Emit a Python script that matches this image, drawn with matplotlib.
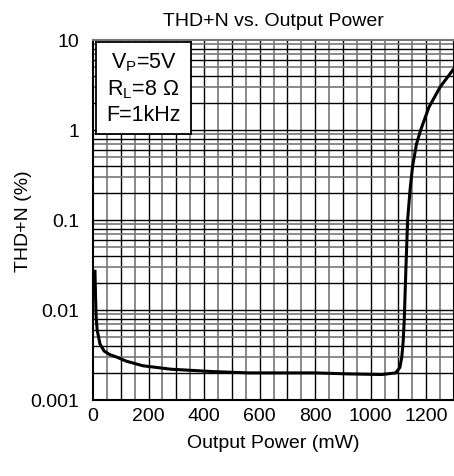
import numpy as np
import matplotlib
matplotlib.use("Agg")
import matplotlib.pyplot as plt
from matplotlib.ticker import FixedLocator, NullFormatter

plt.rcParams['font.family'] = ['Liberation Sans', 'DejaVu Sans']
plt.rcParams['mathtext.fontset'] = 'custom'
plt.rcParams['mathtext.rm'] = 'Liberation Sans'
plt.rcParams['mathtext.it'] = 'Liberation Sans:italic'

power_mw = [7, 9, 11, 15, 25, 40, 60, 85, 120, 180, 280, 430, 560, 670, 800, 920,
            1040, 1090, 1105, 1112, 1117, 1121, 1127, 1133, 1142, 1151, 1165, 1180,
            1210, 1250, 1295, 1310]
thd_pct = [0.028, 0.015, 0.0087, 0.006, 0.0042, 0.0035, 0.0032, 0.003, 0.0027, 0.0024,
           0.0022, 0.00207, 0.002, 0.002, 0.002, 0.00195, 0.00192, 0.002, 0.0023, 0.003,
           0.0045, 0.008, 0.03, 0.1, 0.22, 0.4, 0.7, 1.0, 1.8, 3.0, 4.6, 5.2]

x_ticks = [0, 200, 400, 600, 800, 1000, 1200]
y_ticks = [0.001, 0.01, 0.1, 1, 10]
y_ticklabels = ["0.001", "0.01", "0.1", "1", "10"]

fig = plt.figure(figsize=(4.54, 4.77), dpi=100)
ax = fig.add_axes([93/454, (477-401)/477, (454-93)/454, (401-41)/477])
ax.set_yscale('log')
ax.set_xlim(0, 1300)
ax.set_ylim(0.001, 10)

# grid
for xv in np.arange(50, 1300, 50):
    major = (xv % 100 == 0)
    ax.axvline(xv, color='black' if major else '#777777', lw=1.0 if major else 1.2, zorder=1)
for dec in [0.001, 0.01, 0.1, 1]:
    for m in range(1, 10):
        yv = dec * m
        if yv <= 0.001:
            continue
        col = 'black' if m in (1, 2, 4, 6, 8) else '#777777'
        ax.axhline(yv, color=col, lw=1.0 if col == 'black' else 1.2, zorder=1)

ax.plot(power_mw, thd_pct, color='black', lw=2.2, zorder=3, solid_capstyle='butt')

ax.set_xticks(x_ticks)
ax.set_xticklabels([str(v) for v in x_ticks])
ax.yaxis.set_major_locator(FixedLocator(y_ticks))
ax.set_yticklabels(y_ticklabels)
ax.yaxis.set_minor_formatter(NullFormatter())
ax.tick_params(which='both', length=0, labelsize=14)
ax.tick_params(axis='x', pad=5)
ax.tick_params(axis='y', pad=10)
for s in ax.spines.values():
    s.set_linewidth(1.5)
ax.spines['top'].set_color('#777777')

ax.set_title("THD+N vs. Output Power", fontsize=14, pad=11)
ax.set_xlabel("Output Power (mW)", fontsize=14, labelpad=7)
ax.set_ylabel("THD+N (%)", fontsize=14, labelpad=-1)

# condition box
box_ax = fig.add_axes([96/454, (477-135)/477, (191-96)/454, (135-43)/477])
box_ax.set_xticks([]); box_ax.set_yticks([])
box_ax.set_facecolor('white')
for s in box_ax.spines.values():
    s.set_linewidth(1.3)
box_ax.set_zorder(5)
box_ax.text(0.5, 0.79, r"V$_\mathrm{P}$=5V", ha='center', va='center', fontsize=15.5, transform=box_ax.transAxes)
box_ax.text(0.5, 0.49, r"R$_\mathrm{L}$=8 Ω", ha='center', va='center', fontsize=15.5, transform=box_ax.transAxes)
box_ax.text(0.5, 0.21, "F=1kHz", ha='center', va='center', fontsize=15.5, transform=box_ax.transAxes)

fig.savefig("out.png", dpi=100)
